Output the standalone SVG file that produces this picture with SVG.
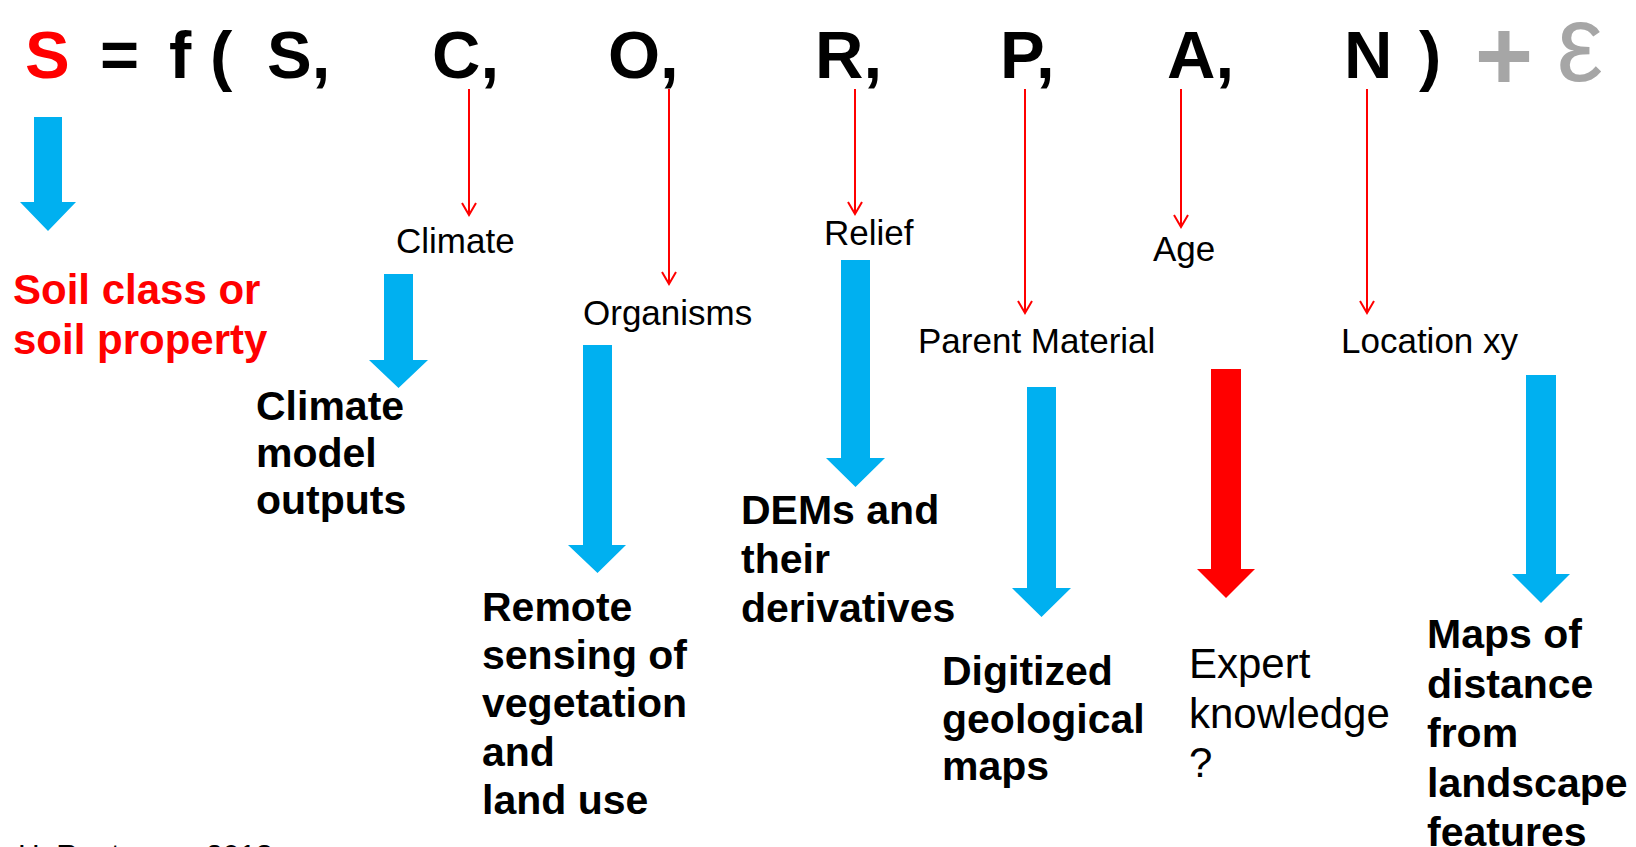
<svg xmlns="http://www.w3.org/2000/svg" width="1636" height="847" viewBox="0 0 1636 847">
<defs>
<style>
text{font-family:"Liberation Sans",Arial,sans-serif;}
.eq{font-size:67px;font-weight:bold;fill:#000;}
.eqr{fill:#ff0000;}
.gray{fill:#a6a6a6;}
.lab{font-size:35px;fill:#000;}
.bold{font-size:41px;font-weight:bold;fill:#000;}
.red{font-size:42px;font-weight:bold;fill:#ff0000;}
.reg{font-size:42px;fill:#000;}
.src{font-size:30px;fill:#000;}
.thin{stroke:#ff0000;stroke-width:2;fill:none;marker-end:url(#vh);}
.blue{fill:#00b0f0;}
.redarrow{fill:#ff0000;}
</style>
<marker id="vh" markerUnits="userSpaceOnUse" markerWidth="16" markerHeight="18" viewBox="-14 -9 16 18" refX="0" refY="0" orient="auto" overflow="visible">
<path d="M-12,-7 L0,0 L-12,7" fill="none" stroke="#ff0000" stroke-width="2"/>
</marker>
</defs>
<g id="equation">
<text class="eq eqr" x="25" y="78">S</text>
<text class="eq" x="100" y="78">=</text>
<text class="eq" x="169" y="78">f</text>
<text class="eq" x="210" y="78">(</text>
<text class="eq" x="267" y="78">S,</text>
<text class="eq" x="432" y="78">C,</text>
<text class="eq" x="608" y="78">O,</text>
<text class="eq" x="815" y="78">R,</text>
<text class="eq" x="1000" y="78">P,</text>
<text class="eq" x="1167" y="78">A,</text>
<text class="eq" x="1344" y="78">N</text>
<text class="eq" x="1419" y="78">)</text>
<text class="eq gray" x="1504" y="90" text-anchor="middle" style="font-size:100px">+</text>
<text class="eq gray" x="0" y="0" text-anchor="middle" transform="translate(1580,81) scale(1,1.05)" style="font-size:104px;font-weight:normal">ε</text>
</g>
<g id="connectors">
<line class="thin" x1="469" y1="89" x2="469" y2="215"/>
<line class="thin" x1="669" y1="89" x2="669" y2="284"/>
<line class="thin" x1="855" y1="89" x2="855" y2="214"/>
<line class="thin" x1="1025" y1="89" x2="1025" y2="313"/>
<line class="thin" x1="1181" y1="89" x2="1181" y2="227"/>
<line class="thin" x1="1367" y1="89" x2="1367" y2="313"/>
<polygon class="blue" points="34,117 62,117 62,202 76,202 48,231 20,202 34,202"/>
<polygon class="blue" points="384,274 413,274 413,360 428,360 398.5,388 369,360 384,360"/>
<polygon class="blue" points="583,345 612,345 612,545 626,545 597.5,573 568,545 583,545"/>
<polygon class="blue" points="841,260 870,260 870,458 885,458 855.5,487 826,458 841,458"/>
<polygon class="blue" points="1027,387 1056,387 1056,588 1071,588 1041.5,617 1012,588 1027,588"/>
<polygon class="redarrow" points="1211,369 1241,369 1241,569 1255,569 1226,598 1197,569 1211,569"/>
<polygon class="blue" points="1526,375 1556,375 1556,574 1570,574 1541,603 1512,574 1526,574"/>
</g>
<g id="soil">
<text class="red" x="13" y="304">Soil class or</text>
<text class="red" x="13" y="354">soil property</text>
</g>
<g id="climate">
<text class="lab" x="396" y="253">Climate</text>
</g>
<g id="climate-data">
<text class="bold" x="256" y="420">Climate</text>
<text class="bold" x="256" y="467">model</text>
<text class="bold" x="256" y="514">outputs</text>
</g>
<g id="organisms">
<text class="lab" x="583" y="325">Organisms</text>
</g>
<g id="organisms-data">
<text class="bold" x="482" y="621">Remote</text>
<text class="bold" x="482" y="669">sensing of</text>
<text class="bold" x="482" y="717">vegetation</text>
<text class="bold" x="482" y="766">and</text>
<text class="bold" x="482" y="814">land use</text>
</g>
<g id="relief">
<text class="lab" x="824" y="245">Relief</text>
</g>
<g id="relief-data">
<text class="bold" x="741" y="524">DEMs and</text>
<text class="bold" x="741" y="573">their</text>
<text class="bold" x="741" y="622">derivatives</text>
</g>
<g id="parent">
<text class="lab" x="918" y="353">Parent Material</text>
</g>
<g id="parent-data">
<text class="bold" x="942" y="685">Digitized</text>
<text class="bold" x="942" y="733">geological</text>
<text class="bold" x="942" y="780">maps</text>
</g>
<g id="age">
<text class="lab" x="1153" y="261">Age</text>
</g>
<g id="age-data">
<text class="reg" x="1189" y="678">Expert</text>
<text class="reg" x="1189" y="728">knowledge</text>
<text class="reg" x="1189" y="777">?</text>
</g>
<g id="location">
<text class="lab" x="1341" y="353">Location xy</text>
</g>
<g id="location-data">
<text class="bold" x="1427" y="648">Maps of</text>
<text class="bold" x="1427" y="698">distance</text>
<text class="bold" x="1427" y="747">from</text>
<text class="bold" x="1427" y="797">landscape</text>
<text class="bold" x="1427" y="846">features</text>
</g>
<g id="source">
<text class="src" x="18" y="865">H. Reuter <tspan x="206">2013</tspan></text>
</g>
</svg>
